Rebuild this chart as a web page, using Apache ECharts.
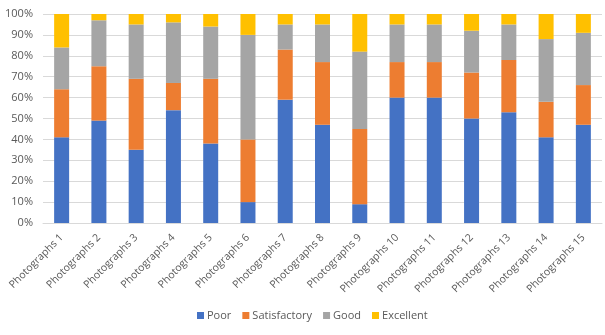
<!DOCTYPE html>
<html><head><meta charset="utf-8">
<script src="https://cdn.jsdelivr.net/npm/echarts@6/dist/echarts.min.js"></script>
<style>html,body{margin:0;padding:0;background:#fff}#c{width:605px;height:335px}</style>
</head><body><div id="c"></div>
<script>
const categories = ['Photographs 1','Photographs 2','Photographs 3','Photographs 4','Photographs 5','Photographs 6','Photographs 7','Photographs 8','Photographs 9','Photographs 10','Photographs 11','Photographs 12','Photographs 13','Photographs 14','Photographs 15'];
const poor         = [41,49,35,54,38,10,59,47, 9,60,60,50,53,41,47];
const satisfactory = [23,26,34,13,31,30,24,30,36,17,17,22,25,17,19];
const good         = [20,22,26,29,25,50,12,18,37,18,18,20,17,30,25];
const excellent    = [16, 3, 5, 4, 6,10, 5, 5,18, 5, 5, 8, 5,12, 9];
const seriesNames = ['Poor','Satisfactory','Good','Excellent'];
const colors = ['#4472C4','#ED7D31','#A5A5A5','#FFC000'];
const values = [poor, satisfactory, good, excellent];
const font = "'Open Sans', 'Liberation Sans', sans-serif";
const chart = echarts.init(document.getElementById('c'), null, {renderer:'canvas'});
chart.setOption({
  animation:false,
  color: colors,
  textStyle:{fontFamily:font},
  grid:{left:43,right:3,top:14,bottom:112},
  legend:{top:305,left:192,itemWidth:7,itemHeight:7,itemGap:11,icon:'rect',
    textStyle:{color:'#595959',fontSize:11,fontFamily:font,padding:[0,0,0,-2]},
    data:seriesNames},
  xAxis:{type:'category',data:categories,
    axisLine:{lineStyle:{color:'#D9D9D9'}},axisTick:{show:false},
    axisLabel:{rotate:45,interval:0,color:'#595959',fontSize:10.5,fontFamily:font,margin:13}},
  yAxis:{type:'value',min:0,max:100,interval:10,
    axisLabel:{formatter:'{value}%',color:'#595959',fontSize:11,fontFamily:font,margin:10},
    splitLine:{lineStyle:{color:'#D9D9D9'}},axisLine:{show:false},axisTick:{show:false}},
  series: seriesNames.map((n,i)=>({name:n,type:'bar',stack:'total',barWidth:15,data:values[i]}))
});
</script></body></html>
